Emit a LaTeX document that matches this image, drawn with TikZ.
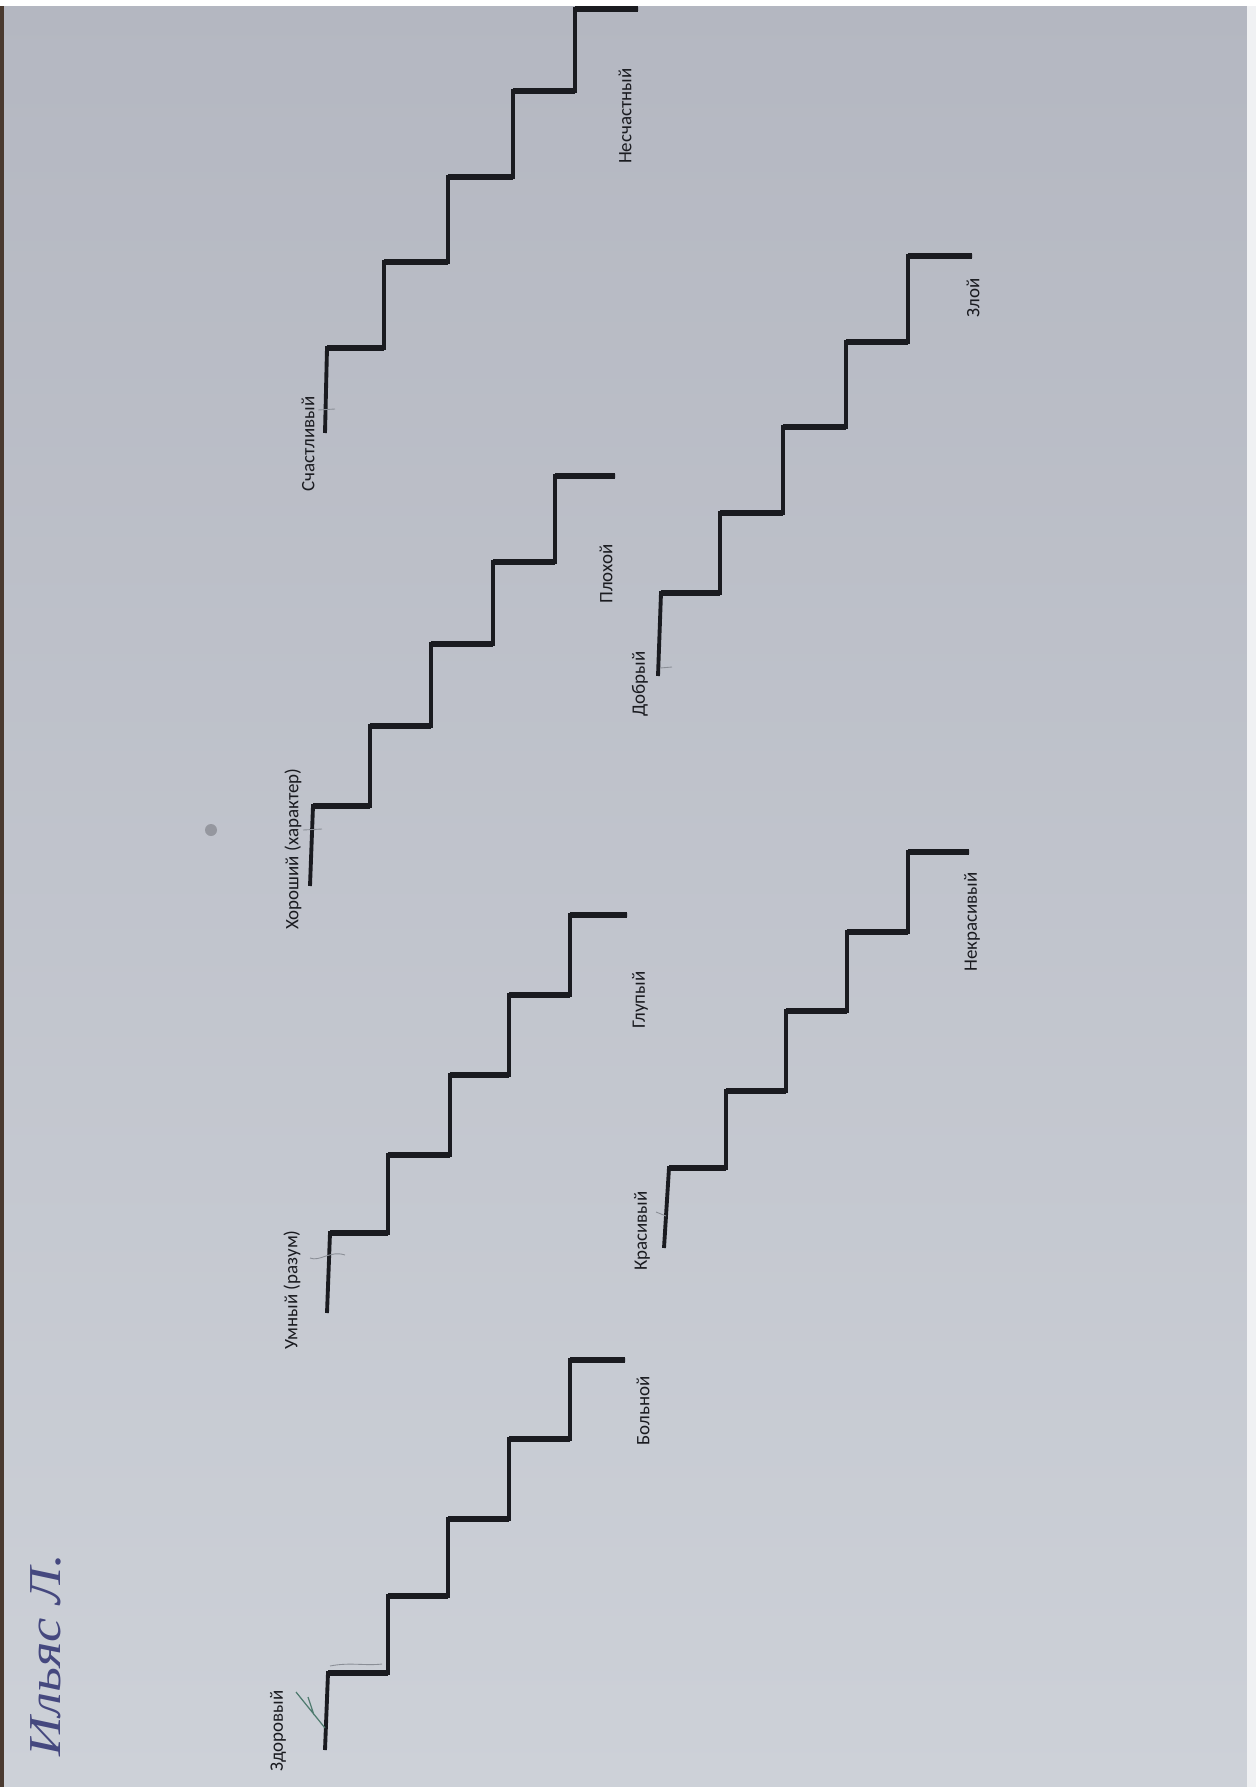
\documentclass[tikz,border=0pt]{standalone}
\usepackage{fontspec}
\setmainfont{Carlito}
\newfontfamily\handfont{Liberation Serif}
\definecolor{paperTop}{HTML}{B4B7C1}
\definecolor{paperBot}{HTML}{CDD1D8}
\definecolor{inkBlack}{HTML}{1A1B20}
\definecolor{penBlue}{HTML}{2E3170}
\definecolor{pencil}{HTML}{8A8E96}
\definecolor{penGreen}{HTML}{4E7A6E}
\definecolor{edgeBrown}{HTML}{4A3A30}
\tikzset{
  riserline/.style={draw=inkBlack,line width=2.2pt,line join=miter},
  treadline/.style={draw=inkBlack,line width=3.5pt,line cap=butt},
  word/.style={rotate=90,font=\fontsize{10.8}{12}\selectfont,text=inkBlack,inner sep=0pt},
  pencilmark/.style={draw=pencil,line width=0.5pt},
}
% \stairs{bx}{by}{x1}{x2}{x3}{x4}{x5}{x6}{y1}{y2}{y3}{y4}{y5}
\newcommand\stairs[9]{%
  \def\bx{#1}\def\by{#2}\def\xa{#3}\def\xb{#4}\def\xc{#5}\def\xd{#6}\def\xe{#7}\def\xf{#8}\def\ya{#9}%
  \stairsB}
\newcommand\stairsB[4]{%
  \draw[riserline] (\bx,\by) -- (\xa,\ya) -- (\xb,\ya) -- (\xb,#1) -- (\xc,#1) -- (\xc,#2) -- (\xd,#2) -- (\xd,#3) -- (\xe,#3) -- (\xe,#4) -- (\xf,#4);
  \draw[treadline] (\xa,\ya) -- (\xb,\ya) (\xb,#1) -- (\xc,#1) (\xc,#2) -- (\xd,#2) (\xd,#3) -- (\xe,#3) (\xe,#4) -- (\xf,#4);
}
\begin{document}
\begin{tikzpicture}[x=0.02cm,y=-0.02cm]
\useasboundingbox (0,0) rectangle (1256,1787);
\shade[top color=paperTop,bottom color=paperBot] (0,0) rectangle (1256,1787);
\fill[white] (0,0) rectangle (1256,6);
\fill[edgeBrown] (0,6) rectangle (4,1787);
\fill[white!70!paperBot] (1247,6) rectangle (1256,1787);
% small blot
\fill[pencil!70!black,opacity=0.45] (211,830) circle (6);

% staircases
\stairs{325}{1750}{328}{388}{448}{509}{570}{625}{1673}{1596}{1519}{1439}{1360}
\stairs{327}{1313}{330}{388}{450}{509}{570}{627}{1233}{1155}{1075}{995}{915}
\stairs{310}{886}{313}{370}{431}{493}{555}{615}{806}{726}{644}{562}{476}
\stairs{325}{433}{327}{384}{448}{513}{575}{638}{348}{262}{177}{91}{9}
\stairs{664}{1248}{669}{726}{786}{847}{908}{969}{1168}{1091}{1011}{932}{852}
\stairs{658}{676}{661}{720}{783}{846}{908}{972}{593}{513}{427}{342}{256}

% pencil marks
\draw[pencilmark] (330,1666) .. controls (350,1662) and (365,1666) .. (382,1664);
\draw[penGreen,line width=0.7pt] (296,1692) -- (325,1728) (308,1697) -- (314,1715);
\draw[pencilmark] (310,1258) .. controls (320,1262) and (330,1250) .. (345,1255);
\draw[pencilmark] (303,830) -- (322,829);
\draw[pencilmark] (318,410) -- (335,409);
\draw[pencilmark] (660,668) -- (672,667);
\draw[pencilmark] (656,1212) -- (666,1216);

% labels
\node[word] (zdorovyj) at (278,1731) {Здоровый};
\node[word] (bolnoj) at (643,1411) {Больной};
\node[word] (umnyj) at (292,1290) {Умный (разум)};
\node[word] (glupyj) at (640,1000) {Глупый};
\node[word] (khoroshij) at (293,849) {Хороший (характер)};
\node[word] (plokhoj) at (606,574) {Плохой};
\node[word] (schastlivyj) at (308,444) {Счастливый};
\node[word] (neschastnyj) at (625,116) {Несчастный};
\node[word] (krasivyj) at (642,1231) {Красивый};
\node[word] (nekrasivyj) at (972,922) {Некрасивый};
\node[word] (dobryj) at (640,684) {Добрый};
\node[word] (zloj) at (973,298) {Злой};

% handwritten name
\node[rotate=90,text=penBlue,font=\handfont\itshape\fontsize{26}{28}\selectfont,inner sep=0pt,xscale=1.2,opacity=0.85] (name) at (46,1655) {Ильяс Л.};
\end{tikzpicture}
\end{document}
